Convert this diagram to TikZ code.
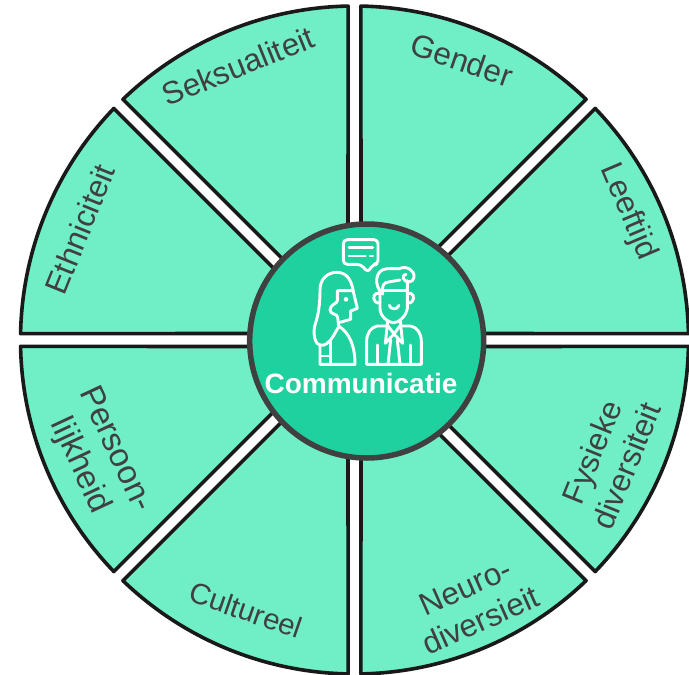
\documentclass[tikz,border=0pt]{standalone}
\usepackage{fontspec}
\setmainfont{Liberation Sans}
\definecolor{segfill}{HTML}{70EEC6}
\definecolor{hubfill}{HTML}{1ED19E}
\definecolor{hubline}{HTML}{404040}
\definecolor{labelgrey}{HTML}{404040}
\tikzset{
  segment/.style={draw=black!90,fill=segfill,line width=3.6pt,line join=round},
  hub/.style={circle,draw=hubline,fill=hubfill,line width=5.5pt,minimum size=234pt,inner sep=0pt},
  seglabel/.style={text=labelgrey,font=\fontsize{31.5}{37}\selectfont,align=center,inner sep=0pt},
  hublabel/.style={text=white,font=\fontsize{28}{30}\selectfont\bfseries,inner sep=0pt},
  icon/.style={draw=white,line width=2.9pt,line join=round,line cap=round}
}
\begin{document}
\begin{tikzpicture}[x=1pt,y=-1pt]
\useasboundingbox (0,0) rectangle (689,675);
\coordinate (c) at (354.5,340);
\foreach \b in {22.5,67.5,...,337.5}{
  \draw[segment,shift={(c)}] (-\b:17) -- (-\b-21.4:334) arc[start angle=\b+21.4,end angle=\b-21.4,radius=-334,y radius=-334,x radius=334] -- cycle;
}
\node[hub] (hubc) at (366.7,341) {};
\node[hublabel] (comm) at (361,383) {Communicatie};
\begin{scope}[shift={(300,230)},x=0.3333pt,y=-0.3333pt]
  % bubble
  \draw[icon,rounded corners=4pt] (183,103) -- (130,103) -- (130,29) -- (234,29) -- (234,103) -- (218,103) -- (204,128) -- cycle;
  \draw[icon] (147,52) -- (218,52);
  \draw[icon] (147,78) -- (196,78);
  \draw[icon] (210,78) -- (218,78);
  % woman: hair
  \draw[icon] (60,345) .. controls (40,340) and (40,300) .. (45,285) .. controls (55,255) and (60,225) .. (60,180) .. controls (60,145) and (85,127) .. (110,127) .. controls (140,127) and (155,150) .. (160,185) -- (172,235) -- (152,243) -- (152,268) -- (116,278);
  \draw[icon] (160,182) -- (112,182) -- (112,212) .. controls (112,222) and (90,222) .. (90,240) .. controls (90,255) and (113,250) .. (113,262) -- (116,290);
  \draw[icon] (60,345) .. controls (75,350) and (90,335) .. (100,318) -- (116,290);
  % woman: body
  \draw[icon] (116,288) .. controls (150,310) and (165,350) .. (165,403) -- (60,403) -- (60,345);
  \draw[icon] (91,335) -- (91,403);
  \draw[icon] (60,378) -- (91,378);
  \fill[white] (138,208) circle (2.3pt);
  % man: hair and head
  \draw[icon] (248,192) .. controls (222,170) and (222,118) .. (262,116) -- (298,116) .. controls (318,106) and (345,120) .. (342,142) .. controls (340,160) and (315,160) .. (310,145) .. controls (308,138) and (312,133) .. (318,133);
  \draw[icon] (248,192) .. controls (245,170) and (250,156) .. (266,156) -- (300,150);
  \draw[icon] (248,181) -- (322,181);
  \draw[icon] (322,152) -- (322,235) .. controls (318,260) and (295,278) .. (282,278) .. controls (265,278) and (240,260) .. (240,235) -- (240,181);
  \draw[icon] (240,190) .. controls (222,185) and (216,205) .. (226,215) .. controls (230,220) and (236,220) .. (240,218);
  \draw[icon] (322,190) .. controls (340,185) and (346,205) .. (336,215) .. controls (332,220) and (326,220) .. (322,218);
  \draw[icon] (268,226) .. controls (272,240) and (292,240) .. (297,226);
  % man: body
  \draw[icon] (262,272) -- (262,288) -- (232,288) .. controls (212,292) and (200,310) .. (200,335) -- (200,403) -- (364,403) -- (364,335) .. controls (364,310) and (352,292) .. (332,288) -- (302,288) -- (302,272);
  \draw[icon] (262,285) -- (256,340) -- (282,312) -- (308,340) -- (302,285);
  \draw[icon] (262,285) -- (282,312) -- (302,285);
  \draw[icon] (272,330) -- (264,403);
  \draw[icon] (292,330) -- (300,403);
  \draw[icon] (232,345) -- (232,403);
  \draw[icon] (332,345) -- (332,403);
\end{scope}
\node[seglabel,rotate=-19] (l1) at (462,60) {Gender};
\node[seglabel,rotate=-67] (l2) at (628,212) {Leeftijd};
\node[seglabel,rotate=68] (l3) at (609,459) {Fysieke\\diversiteit};
\node[seglabel,rotate=24] (l4) at (473,604) {Neuro-\\diversieit};
\node[seglabel,rotate=-19,scale=0.93] (l5) at (246,610) {Cultureel};
\node[seglabel,rotate=-65,scale=1.05] (l6) at (97,458) {Persoon-\\lijkheid};
\node[seglabel,rotate=68] (l7) at (80,229) {Ethniciteit};
\node[seglabel,rotate=22] (l8) at (238,66) {Seksualiteit};
\end{tikzpicture}
\end{document}
